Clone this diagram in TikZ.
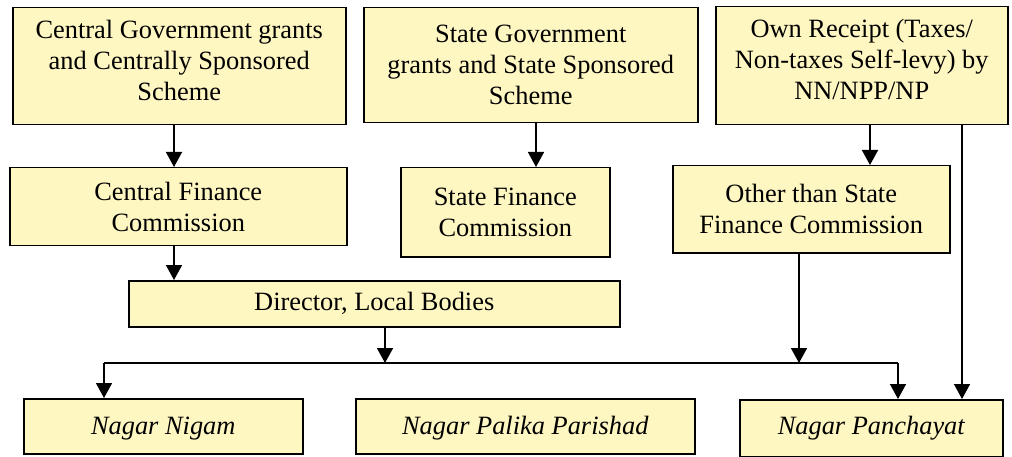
\documentclass[tikz,border=0pt]{standalone}
\usepackage{fontspec}
\setmainfont{Liberation Serif}
\usetikzlibrary{arrows.meta,calc}
\definecolor{boxfill}{RGB}{255,247,193}
\begin{document}
\begin{tikzpicture}[x=1pt,y=-1pt,
  box/.style={draw=black,line width=1.5pt,fill=boxfill,anchor=north west,align=center,inner sep=0pt,
    font=\fontsize{26.4}{31}\selectfont},
  arr/.style={line width=1.6pt,-{Triangle[width=16pt,length=15pt]}},
  ln/.style={line width=1.6pt}]
\useasboundingbox (0,0) rectangle (1012,457);
% top row
\node[box,minimum width=333pt,minimum height=117pt,text depth=11pt] (cg) at (12,7) {Central Government grants\\and Centrally Sponsored\\Scheme};
\node[box,minimum width=334pt,minimum height=115pt] (sg) at (363,7) {State Government\\grants and State Sponsored\\Scheme};
\node[box,minimum width=292pt,minimum height=118pt,text depth=12pt] (own) at (715,6) {Own Receipt (Taxes/\\Non-taxes Self-levy) by\\NN/NPP/NP};
% middle row
\node[box,minimum width=337pt,minimum height=78pt] (cfc) at (9,167) {Central Finance\\Commission};
\node[box,minimum width=209pt,minimum height=89pt] (sfc) at (400,167) {State Finance\\Commission};
\node[box,minimum width=277pt,minimum height=87pt] (osfc) at (672,165) {Other than State\\Finance Commission};
% director
\node[box,minimum width=491pt,minimum height=46pt] (dir) at (128,280) {Director, Local Bodies};
% bottom row
\node[box,minimum width=279pt,minimum height=55pt,text height=22pt] (nn) at (23,398) {\itshape Nagar Nigam};
\node[box,minimum width=339pt,minimum height=55pt,text height=22pt] (npp) at (355,398) {\itshape Nagar Palika Parishad};
\node[box,minimum width=263pt,minimum height=57pt] (np) at (739,399) {\itshape Nagar Panchayat};
% x positions of connectors
\coordinate (xa) at (174,0);
\coordinate (xb) at (536,0);
\coordinate (xc) at (870,0);
\coordinate (xd) at (385,0);
\coordinate (xe) at (799,0);
\coordinate (xf) at (962,0);
\coordinate (xl) at (104,0);
\coordinate (xr) at (898,0);
\coordinate (bus) at (0,363);
% connectors
\draw[arr] (cg.south -| xa) -- (cfc.north -| xa);
\draw[arr] (sg.south -| xb) -- (sfc.north -| xb);
\draw[arr] (own.south -| xc) -- (osfc.north -| xc);
\draw[arr] (cfc.south -| xa) -- (dir.north -| xa);
\draw[arr] (dir.south -| xd) -- (bus -| xd);
\draw[arr] (osfc.south -| xe) -- (bus -| xe);
\draw[ln] (bus -| xl) -- (bus -| xr);
\draw[arr] (bus -| xl) -- (nn.north -| xl);
\draw[arr] (bus -| xr) -- (np.north -| xr);
\draw[arr] (own.south -| xf) -- (np.north -| xf);
\end{tikzpicture}
\end{document}
